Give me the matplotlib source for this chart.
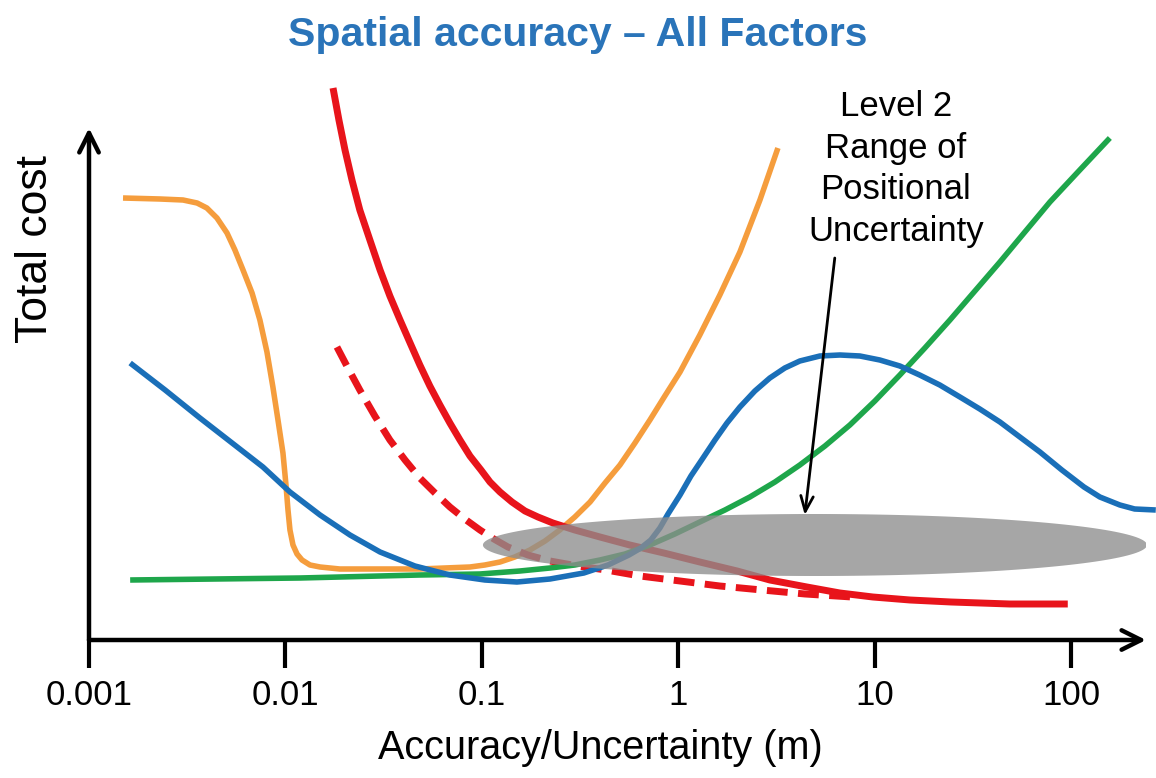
import numpy as np
import matplotlib.pyplot as plt

plt.rcParams['font.family'] = ['Liberation Sans', 'DejaVu Sans']

# curves: x in metres (log axis), y = relative total cost
orange_x = [0.00149, 0.00230, 0.00301, 0.00355, 0.00398, 0.00448, 0.00504, 0.00553, 0.00608, 0.00676,
            0.00741, 0.00805, 0.00863, 0.00916, 0.00971, 0.01006, 0.0103, 0.01054, 0.01092, 0.01145,
            0.01214, 0.01333, 0.0150, 0.0189, 0.0239, 0.0483, 0.0869, 0.1035, 0.1236, 0.147, 0.1755,
            0.2094, 0.249, 0.297, 0.355, 0.423, 0.504, 0.601, 0.716, 0.853, 1.019, 1.285, 1.625, 2.056,
            2.60, 3.21]
orange_y = [4.42, 4.41, 4.40, 4.37, 4.32, 4.22, 4.07, 3.90, 3.70, 3.47,
            3.20, 2.88, 2.53, 2.20, 1.87, 1.55, 1.30, 1.10, 0.95, 0.86,
            0.80, 0.75, 0.73, 0.71, 0.71, 0.71, 0.73, 0.75, 0.78, 0.83, 0.90,
            0.99, 1.10, 1.23, 1.38, 1.57, 1.75, 1.97, 2.20, 2.44, 2.68, 3.05, 3.45, 3.88,
            4.40, 4.92]

red_x = [0.01746, 0.01871, 0.02009, 0.0218, 0.0239, 0.0269, 0.0303, 0.034, 0.0383, 0.0431, 0.0483,
         0.0543, 0.0611, 0.0687, 0.0773, 0.0869, 0.0989, 0.1099, 0.1236, 0.1422, 0.1656, 0.1928,
         0.2297, 0.297, 0.399, 0.566, 0.843, 1.285, 1.99, 2.92, 4.51, 6.64, 9.77, 15.1, 24.4, 48.6, 95.9]
red_y = [5.52, 5.20, 4.90, 4.60, 4.30, 4.00, 3.70, 3.44, 3.20, 2.97, 2.75,
         2.54, 2.35, 2.17, 2.00, 1.84, 1.70, 1.58, 1.48, 1.38, 1.29, 1.23,
         1.17, 1.10, 1.03, 0.95, 0.87, 0.78, 0.69, 0.60, 0.53, 0.47, 0.43, 0.40, 0.38, 0.36, 0.36]

red_dash_x = [0.01828, 0.02079, 0.0239, 0.0285, 0.034, 0.0406, 0.0483, 0.0577, 0.0687, 0.0818, 0.0977,
              0.1151, 0.1356, 0.1713, 0.222, 0.308, 0.428, 0.637, 1.019, 1.625, 2.66, 4.41, 7.64]
red_dash_y = [2.93, 2.72, 2.50, 2.24, 2.00, 1.80, 1.62, 1.47, 1.33, 1.21, 1.10,
              1.01, 0.93, 0.85, 0.79, 0.74, 0.70, 0.64, 0.59, 0.54, 0.50, 0.46, 0.43]

green_x = [0.00162, 0.01186, 0.0483, 0.0977, 0.156, 0.222, 0.297, 0.399, 0.535, 0.716, 0.959, 1.285,
           1.725, 2.31, 3.10, 4.15, 5.57, 7.46, 10.0, 13.4, 17.96, 24.1, 32.3, 43.3, 58.0, 77.8, 110.4, 157]
green_y = [0.60, 0.62, 0.65, 0.66, 0.69, 0.72, 0.75, 0.80, 0.86, 0.95, 1.06, 1.18,
           1.30, 1.43, 1.58, 1.75, 1.94, 2.15, 2.39, 2.65, 2.92, 3.20, 3.49, 3.78, 4.08, 4.38, 4.70, 5.02]

blue_x = [0.00162, 0.00244, 0.00367, 0.00535, 0.00768, 0.01054, 0.0150, 0.0213, 0.0303, 0.0456, 0.0687,
          0.1035, 0.1507, 0.222, 0.330, 0.438, 0.560, 0.644, 0.724, 0.805, 0.885, 1.019, 1.158, 1.334,
          1.535, 1.767, 2.056, 2.45, 2.92, 3.48, 4.15, 5.25, 6.64, 8.39, 10.6, 13.4, 16.9, 21.4, 27.1,
          34.2, 43.3, 54.7, 69.2, 89.5, 116, 139.7, 176.6, 210, 269]
blue_y = [2.77, 2.50, 2.22, 1.97, 1.73, 1.48, 1.25, 1.05, 0.88, 0.74, 0.65,
          0.60, 0.58, 0.61, 0.67, 0.75, 0.85, 0.92, 1.00, 1.12, 1.26, 1.45, 1.64, 1.82,
          2.00, 2.17, 2.33, 2.49, 2.62, 2.72, 2.79, 2.84, 2.85, 2.84, 2.80, 2.74, 2.65, 2.55, 2.43,
          2.31, 2.18, 2.03, 1.88, 1.70, 1.53, 1.43, 1.35, 1.31, 1.30]

# grey ellipse: centre and half-axes (log10 decades, cost units)
ell_cx, ell_cy = 0.695, 0.95
ell_a, ell_b = 1.69, 0.31

tick_vals = [0.001, 0.01, 0.1, 1, 10, 100]
tick_labels = ['0.001', '0.01', '0.1', '1', '10', '100']

fig = plt.figure(figsize=(11.56, 7.78), dpi=100)
ax = fig.add_axes([89 / 1156, 138 / 778, (1146 - 89) / 1156, (640 - 128) / 778])
ax.set_xscale('log')
ax.set_xlim(1e-3, 10 ** 2.38)
ax.set_ylim(0, 5.12)

kw = dict(solid_capstyle='butt', solid_joinstyle='round', clip_on=False)
ax.plot(orange_x, orange_y, color='#f59d3d', lw=4.0, **kw)
ax.plot(red_x, red_y, color='#e8141b', lw=5.0, **kw)
ax.plot(red_dash_x, red_dash_y, color='#e8141b', lw=5.0, ls=(0, (3.0, 1.5)), clip_on=False)
ax.plot(green_x, green_y, color='#1ea64b', lw=4.0, **kw)
ax.plot(blue_x, blue_y, color='#1a6fb8', lw=4.0, **kw)

t = np.linspace(0, 2 * np.pi, 200)
ax.fill(10 ** (ell_cx + ell_a * np.cos(t)), ell_cy + ell_b * np.sin(t),
        color='#8d8d8d', alpha=0.78, lw=0, zorder=5)

for s in ax.spines.values():
    s.set_visible(False)
ax.set_yticks([])
ax.set_xticks(tick_vals)
ax.set_xticklabels(tick_labels, fontsize=25)
ax.minorticks_off()
ax.tick_params(axis='x', length=20, width=3, pad=8, color='black')

# axis arrows
arrow_kw = dict(arrowstyle='->,head_length=1.4,head_width=0.7', lw=3.2, color='black', shrinkA=0, shrinkB=0)
ax.annotate('', xy=(1.0, 0), xytext=(0, 0), xycoords='axes fraction',
            arrowprops=arrow_kw, annotation_clip=False)
ax.annotate('', xy=(0, 1.0), xytext=(0, 0), xycoords='axes fraction',
            arrowprops=arrow_kw, annotation_clip=False)

ax.text(12.8, 4.71, 'Level 2\nRange of\nPositional\nUncertainty',
        ha='center', va='center', fontsize=25, linespacing=1.33)
ax.annotate('', xy=(4.4, 1.25), xytext=(6.25, 3.82),
            arrowprops=dict(arrowstyle='->,head_length=1.1,head_width=0.45', lw=2.0, color='black',
                            shrinkA=0, shrinkB=0), zorder=6)

fig.text(0.5, 0.955, 'Spatial accuracy \u2013 All Factors', ha='center', va='center',
         fontsize=29.5, fontweight='bold', color='#2a74b9')
fig.text(0.519, 0.038, 'Accuracy/Uncertainty (m)', ha='center', va='center', fontsize=28.5)
fig.text(0.031, 0.68, 'Total cost', ha='center', va='center', rotation=90, fontsize=32)

fig.savefig('out.png', dpi=100)
